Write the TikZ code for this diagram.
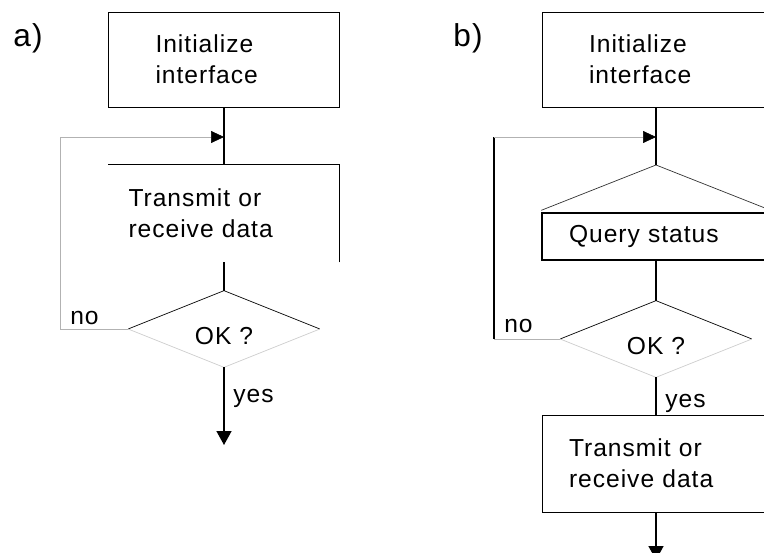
\documentclass[tikz,border=0pt]{standalone}
\usepackage{fontspec}
\setmainfont{Liberation Sans}[LetterSpace=4]
\usetikzlibrary{shapes.geometric,arrows.meta}

\tikzset{
  txt/.style={font=\fontsize{14}{17.5}\selectfont},
  box/.style={txt, draw, line width=0.55pt, inner ysep=0pt, align=left},
  openbox/.style={txt, inner ysep=0pt, align=left},
  flow/.style={line width=0.9pt},
  outflow/.style={flow, -{Triangle[length=2.8mm,width=3mm]}},
  loopline/.style={line width=0.4pt, gray!60},
  tip/.style={-{Triangle[length=2.6mm,width=2.4mm,color=black]}},
  test/.style={diamond, minimum width=3.82cm, minimum height=1.52cm, inner sep=0pt},
  lbl/.style={txt, inner sep=0pt, anchor=base west},
  partlabel/.style={lbl, font=\fontsize{18}{20}\selectfont},
}

\begin{document}
\begin{tikzpicture}[x=0.02cm, y=-0.02cm]
\useasboundingbox (0,0) rectangle (764,553);
\clip (0,0) rectangle (764,553);

% a)
\node [partlabel] (partA) at (13,47) {a)};
\node [box, minimum width=4.62cm, minimum height=1.9cm, inner xsep=0.94cm, text width=2.74cm] (initA) at (224,59.5) {Initialize\\interface};
\coordinate (joinA) at (224,137);
\node [openbox, minimum width=4.62cm, minimum height=1.94cm, inner xsep=0.4cm, text width=3.82cm] (transA) at (224,213.5) {Transmit or\\receive data};
\node [test, label={[txt, yshift=-0.14cm]center:OK ?}] (okA) at (224,329) {};
\coordinate (loopA) at (60,137);
\coordinate (endA) at (224,445);

% Box (top and right side only)
\draw [line width=0.55pt] (transA.south east) -- (transA.north east) -- (transA.north west);

% Decision
\draw [line width=0.4pt] (okA.west) -- (okA.north) -- (okA.east);
\draw [line width=0.4pt, gray!40] (okA.east) -- (okA.south) -- (okA.west);

% Connections
\draw [flow] (initA.south) -- (transA.north);
\draw [flow] (transA.south) -- (okA.north);
\draw [outflow] (okA.south) -- (endA);
\draw [loopline, tip] (okA.west) -| (loopA) -- (joinA);
\node [lbl] (noA) at (70,325) {no};
\node [lbl] (yesA) at (233,402.5) {yes};

% b)
\node [partlabel] (partB) at (453,47) {b)};
\node [box, minimum width=4.56cm, minimum height=1.9cm, inner xsep=0.94cm, text width=2.68cm] (initB) at (656,59.5) {Initialize\\interface};
\coordinate (joinB) at (656,137);
\coordinate (forkB) at (656,165);
\node [box, line width=0.8pt, minimum width=4.56cm, minimum height=0.94cm, inner xsep=0.54cm, text width=3.48cm] (queryB) at (656,236.5) {Query status};
\node [test, label={[txt, yshift=-0.14cm]center:OK ?}] (okB) at (656,339) {};
\node [box, minimum width=4.56cm, minimum height=1.94cm, inner xsep=0.54cm, text width=3.48cm] (transB) at (656,463.5) {Transmit or\\receive data};
\coordinate (loopB) at (494,137);
\coordinate (endB) at (656,560);

% Fork
\draw [line width=0.4pt, black!80] ([yshift=0.04cm]queryB.north west) -- (forkB) -- ([yshift=0.04cm]queryB.north east);

% Decision
\draw [line width=0.4pt] (okB.west) -- (okB.north) -- (okB.east);
\draw [line width=0.4pt, gray!40] (okB.east) -- (okB.south) -- (okB.west);

% Connections
\draw [flow] (initB.south) -- (forkB);
\draw [flow] (queryB.south) -- (okB.north);
\draw [flow] (okB.south) -- (transB.north);
\draw [outflow] (transB.south) -- (endB);
\draw [loopline] (okB.west) -- (okB.west -| loopB);
\draw [flow] (okB.west -| loopB) -- (loopB);
\draw [loopline, tip] (loopB) -- (joinB);
\node [lbl] (noB) at (504,333) {no};
\node [lbl] (yesB) at (665,407.5) {yes};
\end{tikzpicture}
\end{document}
